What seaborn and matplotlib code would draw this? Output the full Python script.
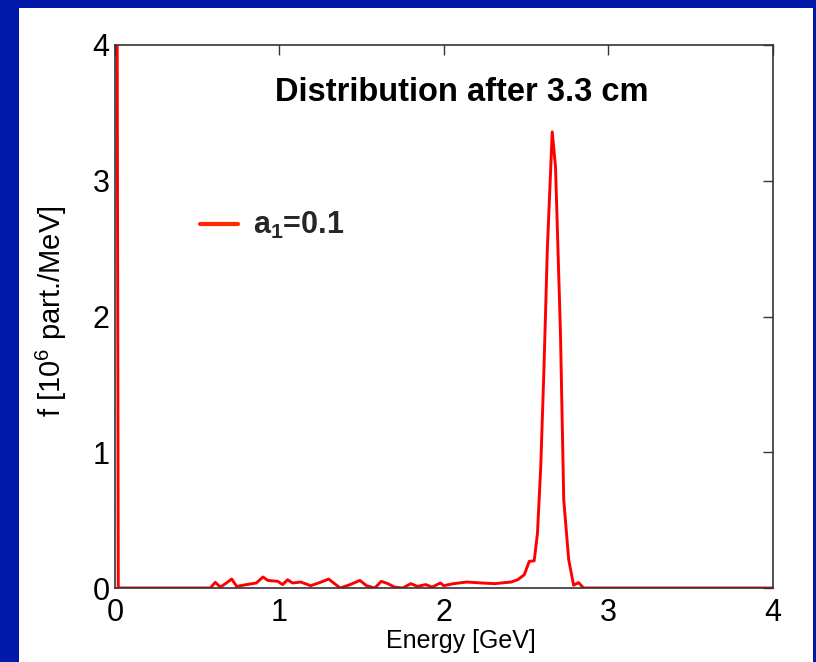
import matplotlib
matplotlib.use("Agg")
import matplotlib.pyplot as plt
import seaborn as sns
import pandas as pd

# ---- data ----
energy = [0.01, 0.02, 0.40, 0.58, 0.61, 0.64, 0.67, 0.71, 0.74, 0.80, 0.86, 0.90,
          0.93, 0.99, 1.02, 1.05, 1.08, 1.13, 1.19, 1.25, 1.30, 1.33, 1.37, 1.43,
          1.49, 1.53, 1.58, 1.62, 1.66, 1.70, 1.75, 1.80, 1.84, 1.89, 1.93, 1.98,
          2.00, 2.06, 2.14, 2.23, 2.31, 2.35, 2.41, 2.45, 2.49, 2.52, 2.55, 2.57,
          2.59, 2.61, 2.63, 2.66, 2.68, 2.71, 2.73, 2.76, 2.79, 2.82, 2.85, 4.00]
f_values = [6.0, 0.0, 0.0, 0.0, 0.042, 0.007, 0.03, 0.066, 0.012, 0.025, 0.037, 0.081,
            0.056, 0.049, 0.025, 0.061, 0.037, 0.044, 0.017, 0.042, 0.066, 0.037, 0.0, 0.025,
            0.056, 0.017, 0.0, 0.049, 0.032, 0.007, 0.0, 0.032, 0.012, 0.025, 0.007, 0.037,
            0.017, 0.032, 0.044, 0.037, 0.032, 0.037, 0.044, 0.061, 0.098, 0.196, 0.20, 0.40,
            0.89, 1.63, 2.49, 3.36, 3.10, 1.88, 0.65, 0.21, 0.02, 0.04, 0.0, 0.0]
x_ticks = [0, 1, 2, 3, 4]
y_ticks = [0, 1, 2, 3, 4]
series_label = r"a$_\mathbf{1}$=0.1"
title_text = "Distribution after 3.3 cm"
x_label = "Energy [GeV]"
y_label = r"f [10$^6$ part./MeV]"

df = pd.DataFrame({"Energy": energy, "f": f_values})

sns.set_theme(style="white")
plt.rcParams["font.family"] = ["Liberation Sans", "DejaVu Sans"]
plt.rcParams["mathtext.fontset"] = "custom"
plt.rcParams["mathtext.rm"] = "Liberation Sans"
plt.rcParams["mathtext.it"] = "Liberation Sans:italic"
plt.rcParams["mathtext.bf"] = "Liberation Sans:bold"
plt.rcParams["mathtext.default"] = "regular"

fig = plt.figure(figsize=(8.16, 6.62), dpi=100, facecolor="#0019A8")
# white panel
panel = plt.Rectangle((19 / 816, 0), (813 - 19) / 816, (662 - 8) / 662,
                      transform=fig.transFigure, facecolor="white",
                      edgecolor="none", zorder=-10)
fig.add_artist(panel)

ax = fig.add_axes([115 / 816, (662 - 588) / 662, (772.5 - 115) / 816, (588 - 45) / 662])
ax.set_zorder(5)
ax.set_facecolor("white")

sns.lineplot(data=df, x="Energy", y="f", sort=False, estimator=None, ax=ax,
             color="#FF0000", linewidth=2.1, label=series_label)

ax.set_xlim(0, 4)
ax.set_ylim(0, 4)
ax.set_xticks(x_ticks)
ax.set_yticks(y_ticks)
ax.set_xticklabels([str(t) for t in x_ticks])
ax.set_yticklabels([str(t) for t in y_ticks])
ax.tick_params(direction="in", length=7, width=1, top=True, right=True,
               labelsize=22, colors="#333333", labelcolor="black")
ax.tick_params(axis="x", pad=7)
ax.tick_params(axis="y", pad=4)
for s in ax.spines.values():
    s.set_visible(True)
    s.set_color("#333333")
    s.set_linewidth(1.2)

ax.set_xlabel(x_label, fontsize=18, color="black")
ax.set_ylabel(y_label, fontsize=21, color="black")
ax.xaxis.set_label_coords(0.526, -0.075)
ax.yaxis.set_label_coords(-0.07, 0.51)

ax.text(0.527, 0.912, title_text, transform=ax.transAxes, ha="center", va="center",
        fontsize=23.5, fontweight="bold", color="black")

leg = ax.legend(loc="center left", bbox_to_anchor=(0.129, 0.667), frameon=False,
                handlelength=1.25, handletextpad=0.5, borderaxespad=0, borderpad=0,
                prop={"size": 22, "weight": "bold"})
for line in leg.get_lines():
    line.set_linewidth(3)
    line.set_color("#FF2A00")

fig.savefig("out.png", dpi=100, facecolor=fig.get_facecolor())
